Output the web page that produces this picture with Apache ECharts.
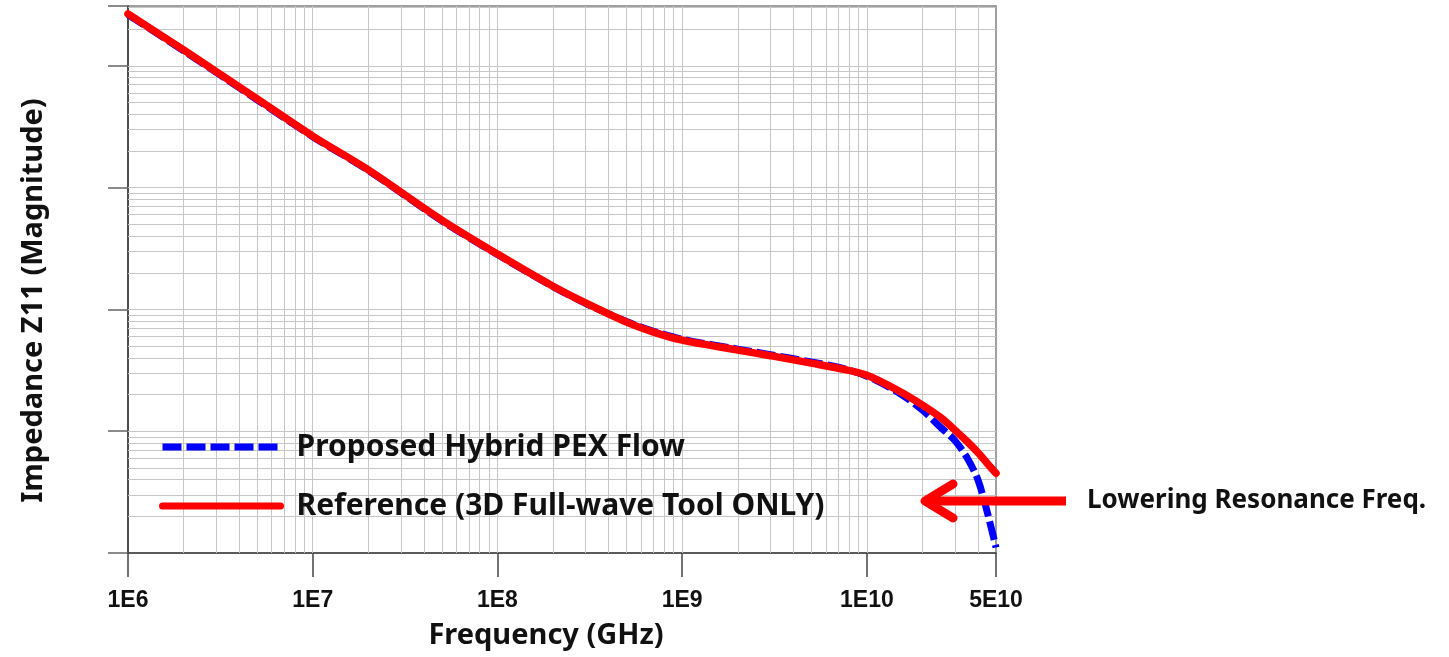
<!DOCTYPE html>
<html>
<head>
<meta charset="utf-8">
<script src="https://cdn.jsdelivr.net/npm/echarts@6/dist/echarts.min.js"></script>
<style>
html,body{margin:0;padding:0;background:#fff;}
#chart{width:1449px;height:657px;}
</style>
</head>
<body>
<div id="chart"></div>
<script>
// ---- data ----
const frequencies = [1e6, 2e6, 5e6, 1e7, 2e7, 5e7, 1e8, 2e8, 3e8, 5e8, 7e8, 1e9, 2e9, 3e9, 5e9, 7e9,
  1e10, 1.5e10, 2e10, 2.5e10, 3e10, 3.5e10, 4e10, 4.5e10, 5e10];
const hybridPEX = [26300, 13300, 5270, 2620, 1385, 535, 282, 154, 112, 79.5, 66.2, 57.0, 47.2, 42.5, 37.0, 33.6,
  28.3, 20.5, 14.9, 10.8, 8.36, 6.0, 3.96, 2.12, 1.11];
const reference3D = [26700, 13500, 5350, 2650, 1400, 542, 285, 155, 113, 78.6, 65.1, 55.9, 46.3, 41.7, 36.2, 32.9,
  28.8, 21.3, 16.4, 13.0, 10.2, 8.2, 6.66, 5.41, 4.52];
const seriesNames = ['Proposed Hybrid PEX Flow', 'Reference (3D Full-wave Tool ONLY)'];
const xRange = [1e6, 5e10];
const yRange = [1, 31000];
const xAxisTitle = 'Frequency (GHz)';
const yAxisTitle = 'Impedance Z11 (Magnitude)';
const annotationText = 'Lowering Resonance Freq.';

// log grid lines (2..9 x 10^k and decades) inside the ranges
function logGridValues(lo, hi) {
  const out = [];
  for (let k = Math.floor(Math.log10(lo)); k <= Math.ceil(Math.log10(hi)); k++) {
    for (let m = 1; m <= 9; m++) {
      const v = m * Math.pow(10, k);
      if (v > lo * 1.0001 && v < hi * 0.9999) out.push(v);
    }
  }
  return out;
}
const xGrid = logGridValues(xRange[0], xRange[1]);
const yGrid = logGridValues(yRange[0], yRange[1]);

function expLabel(v) {
  const e = Math.floor(Math.log10(v) + 1e-9);
  const m = Math.round(v / Math.pow(10, e));
  return m + 'E' + e;
}

const chart = echarts.init(document.getElementById('chart'), null, {renderer: 'canvas'});
const gridColor = '#c6c6c6';
const font = '"Noto Sans", "Open Sans", sans-serif';

const option = {
  animation: false,
  backgroundColor: '#ffffff',
  grid: {
    left: 128, right: 453, top: 6, bottom: 104,
    show: true, borderColor: '#808080', borderWidth: 1.5,
    containLabel: false, outerBoundsMode: 'none'
  },
  legend: {
    data: seriesNames,
    orient: 'vertical',
    left: 154, top: 422, z: 10,
    itemWidth: 118, itemHeight: 14, itemGap: 19,
    lineStyle: {width: 7},
    itemStyle: {opacity: 0},
    textStyle: {fontFamily: font, fontWeight: 'bold', fontSize: 30, color: '#111',
      lineHeight: 40, padding: [0, 0, 0, 11]}
  },
  xAxis: {
    type: 'log', logBase: 10, min: xRange[0], max: xRange[1],
    name: xAxisTitle, nameLocation: 'middle', nameGap: 68,
    nameTextStyle: {fontFamily: font, fontWeight: 'bold', fontSize: 29, color: '#111', padding: [0, 32, 0, 0]},
    axisLine: {show: true, lineStyle: {color: '#444', width: 1.5}},
    axisTick: {show: true, inside: false, length: 24, lineStyle: {color: '#444', width: 1.5}},
    axisLabel: {show: true, margin: 36, formatter: expLabel,
      fontFamily: '"Liberation Sans", Arial, sans-serif', fontWeight: 'bold', fontSize: 23, color: '#111',
      showMinLabel: true, showMaxLabel: true},
    splitLine: {show: false},
    minorTick: {show: false}, minorSplitLine: {show: false}
  },
  yAxis: {
    type: 'log', logBase: 10, min: yRange[0], max: yRange[1],
    name: yAxisTitle, nameLocation: 'middle', nameGap: 80, nameRotate: 90,
    nameTextStyle: {fontFamily: font, fontWeight: 'bold', fontSize: 29, color: '#111', padding: [0, 42, 0, 0]},
    axisLine: {show: true, lineStyle: {color: '#333', width: 1.5}},
    axisTick: {show: true, inside: false, length: 20, lineStyle: {color: '#666', width: 1.5}},
    axisLabel: {show: false},
    splitLine: {show: false},
    minorTick: {show: false}, minorSplitLine: {show: false}
  },
  series: [
    {
      name: '__grid', type: 'line', data: [], silent: true, z: 1,
      markLine: {
        silent: true, symbol: 'none', animation: false, z: 1,
        label: {show: false}, emphasis: {disabled: true},
        lineStyle: {type: 'solid', color: gridColor, width: 1},
        data: xGrid.map(v => ({xAxis: v})).concat(yGrid.map(v => ({yAxis: v})))
      }
    },
    {
      name: seriesNames[0], type: 'line', z: 3,
      data: frequencies.map((f, i) => [f, hybridPEX[i]]),
      showSymbol: false, symbol: 'none', smooth: 0.3,
      lineStyle: {color: '#0000ff', width: 7, type: [19, 5]},
      itemStyle: {color: '#0000ff'}
    },
    {
      name: seriesNames[1], type: 'line', z: 4,
      data: frequencies.map((f, i) => [f, reference3D[i]]),
      showSymbol: false, symbol: 'none', smooth: 0.3,
      lineStyle: {color: '#ff0000', width: 7.5, cap: 'round'},
      itemStyle: {color: '#ff0000'}
    }
  ],
  graphic: [
    {type: 'line', z: 10, shape: {x1: 926, y1: 501, x2: 1066, y2: 501},
      style: {stroke: '#ff0000', lineWidth: 9}},
    {type: 'polyline', z: 10, shape: {points: [[953, 484], [925, 501], [953, 518]]},
      style: {stroke: '#ff0000', lineWidth: 9, lineCap: 'round', lineJoin: 'round', fill: null}},
    {type: 'text', z: 10, x: 1087, y: 501,
      style: {text: annotationText, font: 'bold 26px ' + font, fill: '#111', verticalAlign: 'middle', align: 'left'}}
  ]
};
chart.setOption(option);
</script>
</body>
</html>
